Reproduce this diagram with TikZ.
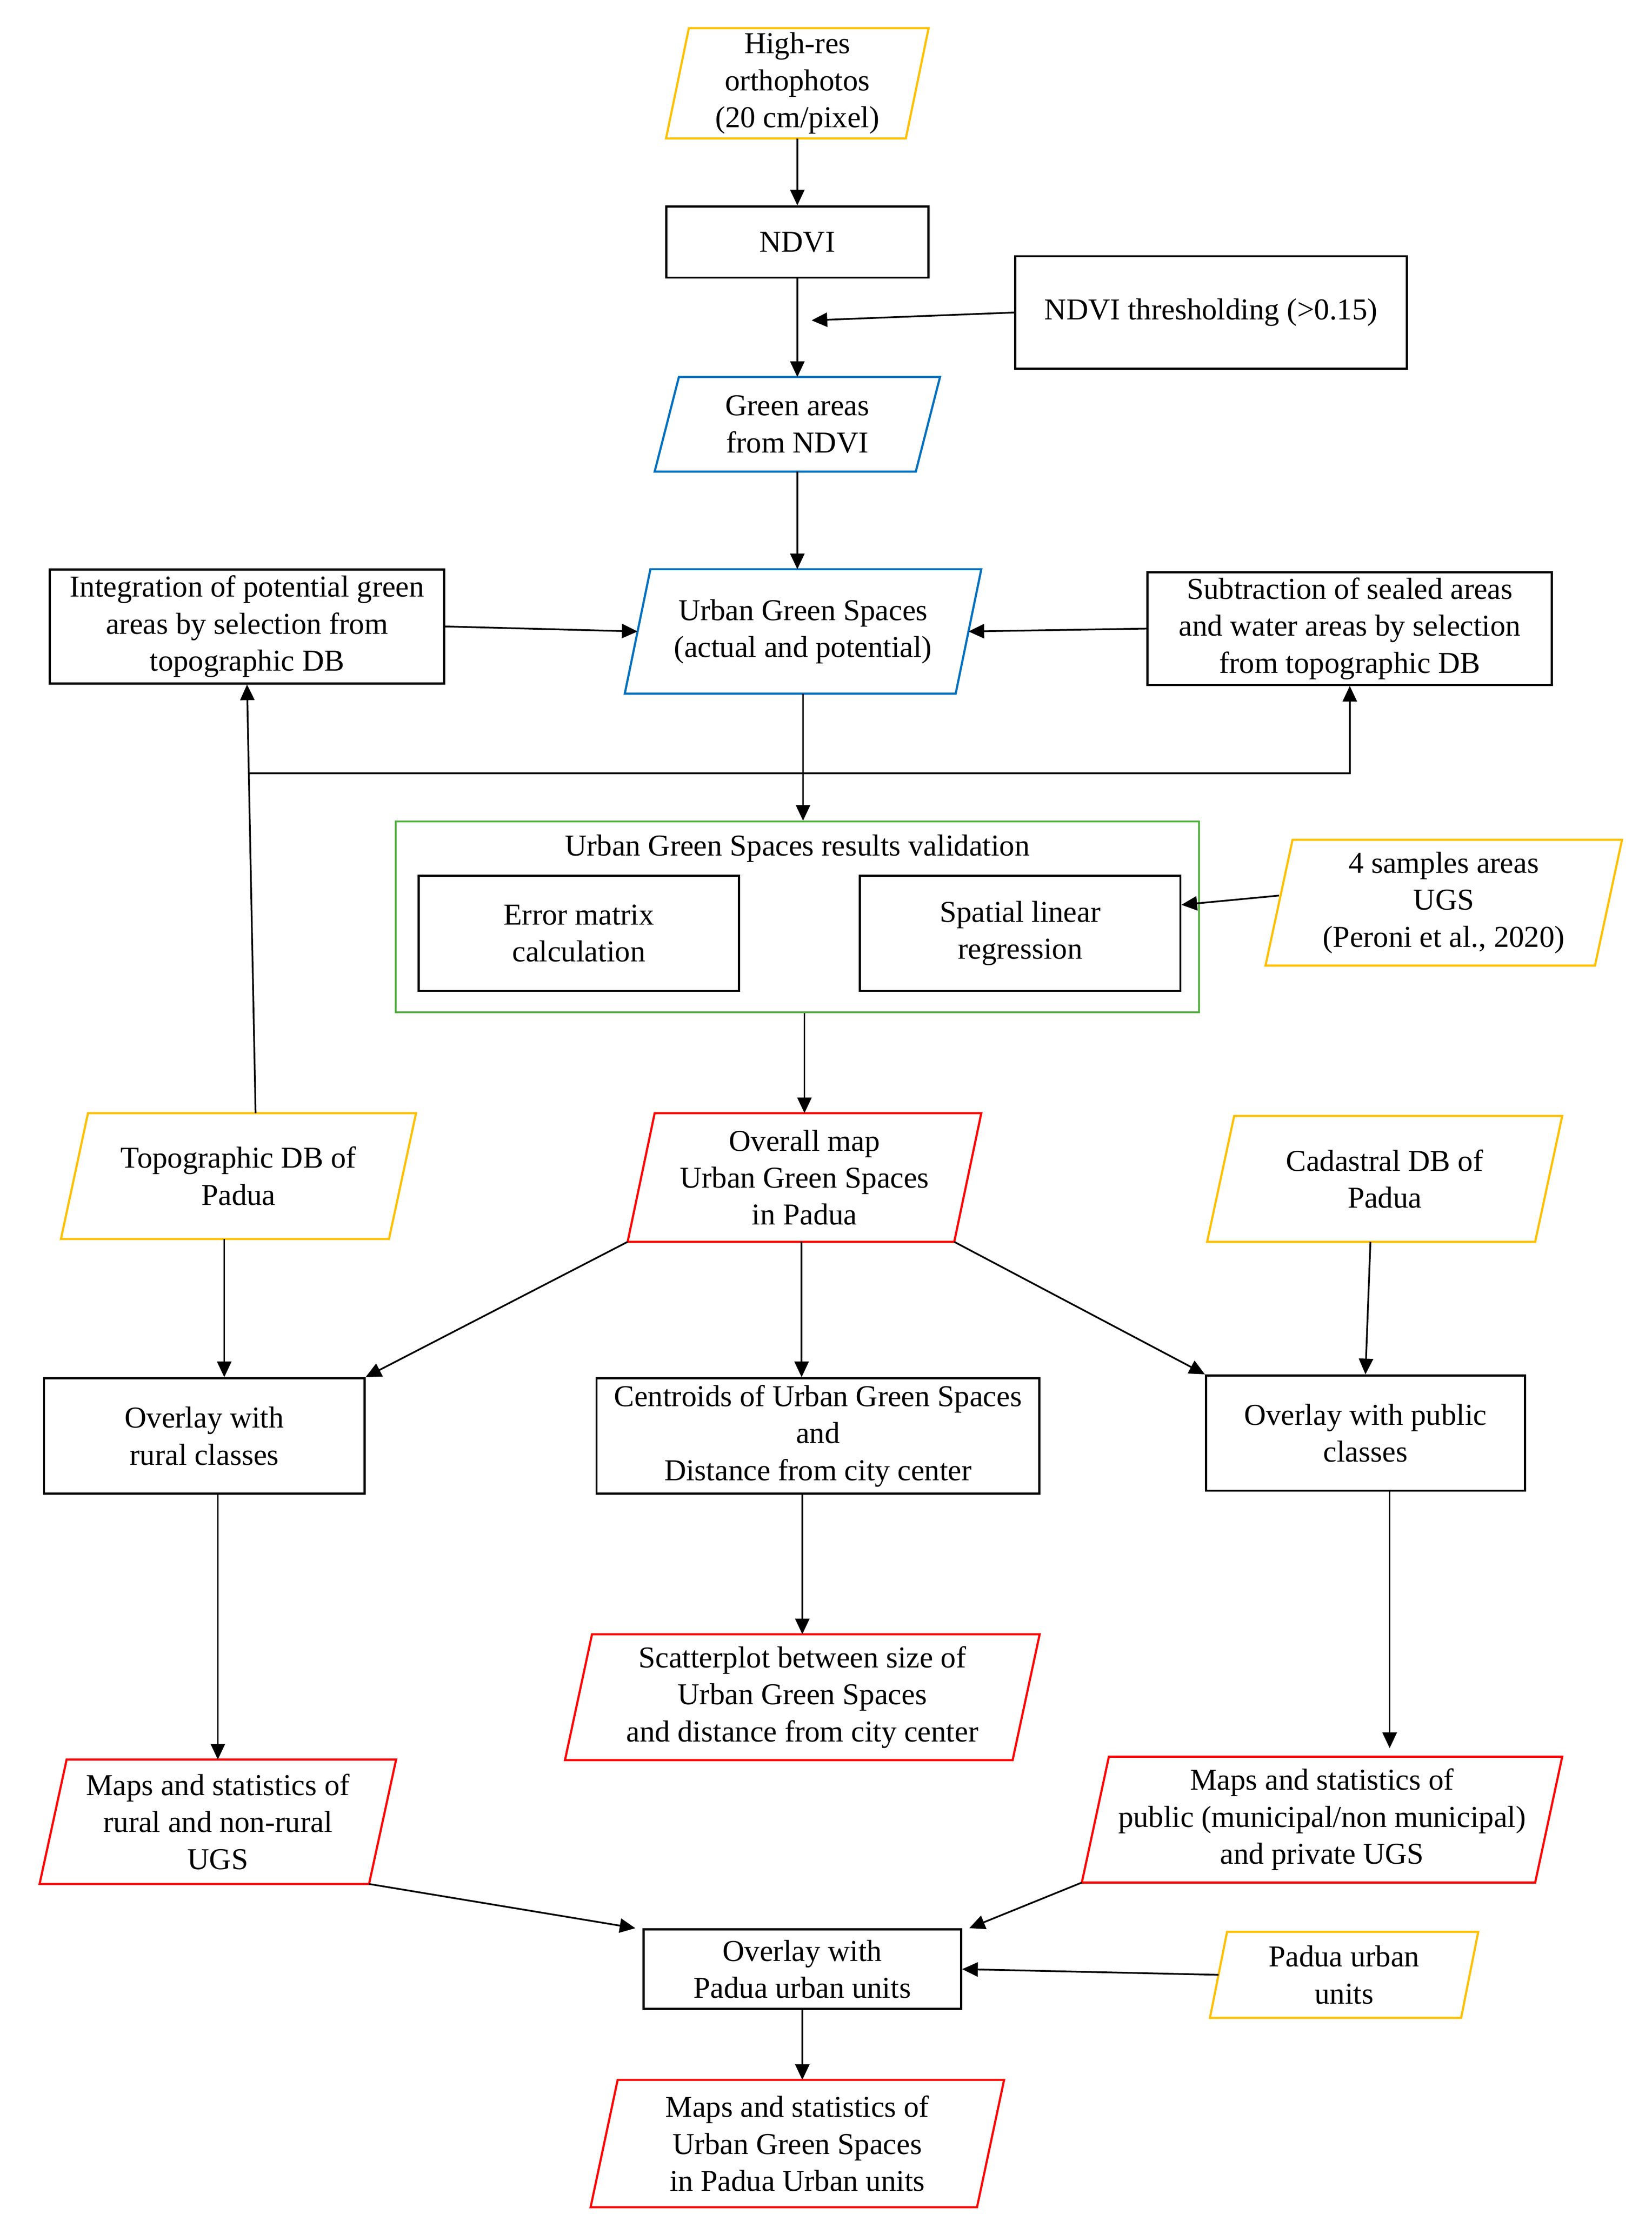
\documentclass[tikz,border=0pt]{standalone}
\usepackage{fontspec}
\setmainfont{Liberation Serif}
\usetikzlibrary{arrows.meta,calc}
\definecolor{cyel}{RGB}{255,192,0}
\definecolor{cblu}{RGB}{0,112,192}
\definecolor{cred}{RGB}{255,0,0}
\definecolor{cgrn}{RGB}{80,176,60}
\newcommand\drawpara[3]{\draw[line width=1.5pt,#2] ([xshift=#3pt]#1.north west) coordinate (#1-nw) -- ([xshift=#3pt]#1.north east) coordinate (#1-ne) -- ([xshift=-#3pt]#1.south east) coordinate (#1-se) -- ([xshift=-#3pt]#1.south west) coordinate (#1-sw) -- cycle;}
\begin{document}
\begin{tikzpicture}[x=1pt,y=-1pt,
  txt/.style={align=center,inner sep=0pt,font=\fontsize{21.3}{26}\selectfont},
  box/.style={txt,draw,line width=1.5pt},
  para/.style={txt},
  arr/.style={-{Triangle[length=11pt,width=10pt]},line width=1.2pt}]
\useasboundingbox[fill=white] (0,0) rectangle (1160,1555);
% nodes
\node[para,minimum width=168pt,minimum height=77pt] (hires) at (560,58.5) {High-res\\orthophotos\\(20 cm/pixel)};
\node[box,minimum width=184pt,minimum height=50pt] (ndvi) at (560,170) {NDVI};
\node[box,minimum width=275pt,minimum height=79pt] (thresh) at (850.5,219.5) {NDVI thresholding (>0.15)};
\node[para,minimum width=183pt,minimum height=66pt] (green) at (560,298) {Green areas\\from NDVI};
\node[para,minimum width=232pt,minimum height=87pt] (ugs) at (564,443.5) {Urban Green Spaces\\(actual and potential)};
\node[box,minimum width=277pt,minimum height=80pt] (integ) at (173.5,440) {Integration of potential green\\areas by selection from\\topographic DB};
\node[box,minimum width=284pt,minimum height=79pt] (subtr) at (948,441.5) {Subtraction of sealed areas\\and water areas by selection\\from topographic DB};
\node[draw=cgrn,line width=1.2pt,minimum width=564pt,minimum height=134pt,inner sep=0pt] (valid) at (560,644) {};
\node[txt] (vtitle) at (560,596) {Urban Green Spaces results validation};
\node[box,minimum width=225pt,minimum height=81pt] (err) at (406.5,655.5) {Error matrix\\calculation};
\node[box,minimum width=225pt,minimum height=81pt] (spat) at (716.5,655.5) {Spatial linear\\regression};
\node[para,minimum width=231pt,minimum height=88pt] (samples) at (1014,634) {4 samples areas\\UGS\\(Peroni et al., 2020)};
\node[para,minimum width=229pt,minimum height=90pt] (overall) at (565,827) {Overall map\\Urban Green Spaces\\in Padua};
\node[para,minimum width=230pt,minimum height=88pt] (topo) at (167.5,826) {Topographic DB of\\Padua};
\node[para,minimum width=230pt,minimum height=88pt] (cadas) at (972.5,828) {Cadastral DB of\\Padua};
\node[box,minimum width=225pt,minimum height=81pt] (rural) at (143.5,1008.5) {Overlay with\\rural classes};
\node[box,minimum width=311pt,minimum height=81pt] (centroids) at (574.5,1008.5) {Centroids of Urban Green Spaces\\and\\Distance from city center};
\node[box,minimum width=224pt,minimum height=81pt] (public) at (959,1006.5) {Overlay with public\\classes};
\node[para,minimum width=314pt,minimum height=88pt] (scatter) at (563.5,1192) {Scatterplot between size of\\Urban Green Spaces\\and distance from city center};
\node[para,minimum width=231pt,minimum height=87pt] (mapsrural) at (153,1279.5) {Maps and statistics of\\rural and non-rural\\UGS};
\node[para,minimum width=318pt,minimum height=88pt] (mapspub) at (928.5,1278) {Maps and statistics of\\public (municipal/non municipal)\\and private UGS};
\node[box,minimum width=223pt,minimum height=56pt] (ounits) at (563.5,1383) {Overlay with\\Padua urban units};
\node[para,minimum width=176pt,minimum height=60pt] (punits) at (944,1387) {Padua urban\\units};
\node[para,minimum width=271pt,minimum height=89pt] (final) at (560,1505.5) {Maps and statistics of\\Urban Green Spaces\\in Padua Urban units};
% parallelogram outlines
\drawpara{hires}{cyel}{8}
\drawpara{green}{cblu}{8.5}
\drawpara{ugs}{cblu}{9}
\drawpara{samples}{cyel}{9.5}
\drawpara{overall}{cred}{9.5}
\drawpara{topo}{cyel}{9.5}
\drawpara{cadas}{cyel}{9.5}
\drawpara{scatter}{cred}{9.5}
\drawpara{mapsrural}{cred}{9.5}
\drawpara{mapspub}{cred}{9.5}
\drawpara{punits}{cyel}{6}
\drawpara{final}{cred}{9.5}
% connectors
\coordinate (tj) at (570,225);
\coordinate (fbj) at (175,543);
\draw[arr] (hires.south) -- (ndvi.north);
\draw[arr] (ndvi.south) -- (green.north);
\draw[arr] (thresh.west) -- (tj);
\draw[arr] (green.south) -- (green.south |- ugs.north);
\draw[arr] (integ.east) -- (ugs.west);
\draw[arr] (subtr.west) -- (ugs.east);
\draw[arr] (ugs.south) -- (ugs.south |- valid.north);
\draw[arr] ([xshift=12pt]topo.north) -- (integ.south);
\draw[arr] (fbj) -| (subtr.south);
\draw[arr] ([yshift=5pt]samples.west) -- ([yshift=20pt]spat.east);
\draw[arr] (overall.north |- valid.south) -- (overall.north);
\draw[arr] (overall-sw) -- (rural.north east);
\draw[arr] (overall-se) -- (public.north west);
\draw[arr] ([xshift=-2pt]overall.south) -- ([xshift=-2pt]overall.south |- centroids.north);
\draw[arr] ([xshift=-10pt]topo.south) -- ([xshift=-10pt]topo.south |- rural.north);
\draw[arr] ([xshift=-10pt]cadas.south) -- (public.north);
\draw[arr] (scatter.north |- centroids.south) -- (scatter.north);
\draw[arr] (mapsrural.north |- rural.south) -- (mapsrural.north);
\draw[arr] ([xshift=17pt]public.south) -- ([xshift=17pt,yshift=6pt]public.south |- mapspub.north);
\draw[arr] (mapsrural-se) -- ([xshift=-5pt]ounits.north west);
\draw[arr] (mapspub-sw) -- ([xshift=5pt]ounits.north east);
\draw[arr] (punits.west) -- (ounits.east);
\draw[arr] (ounits.south) -- (ounits.south |- final.north);
\end{tikzpicture}
\end{document}
